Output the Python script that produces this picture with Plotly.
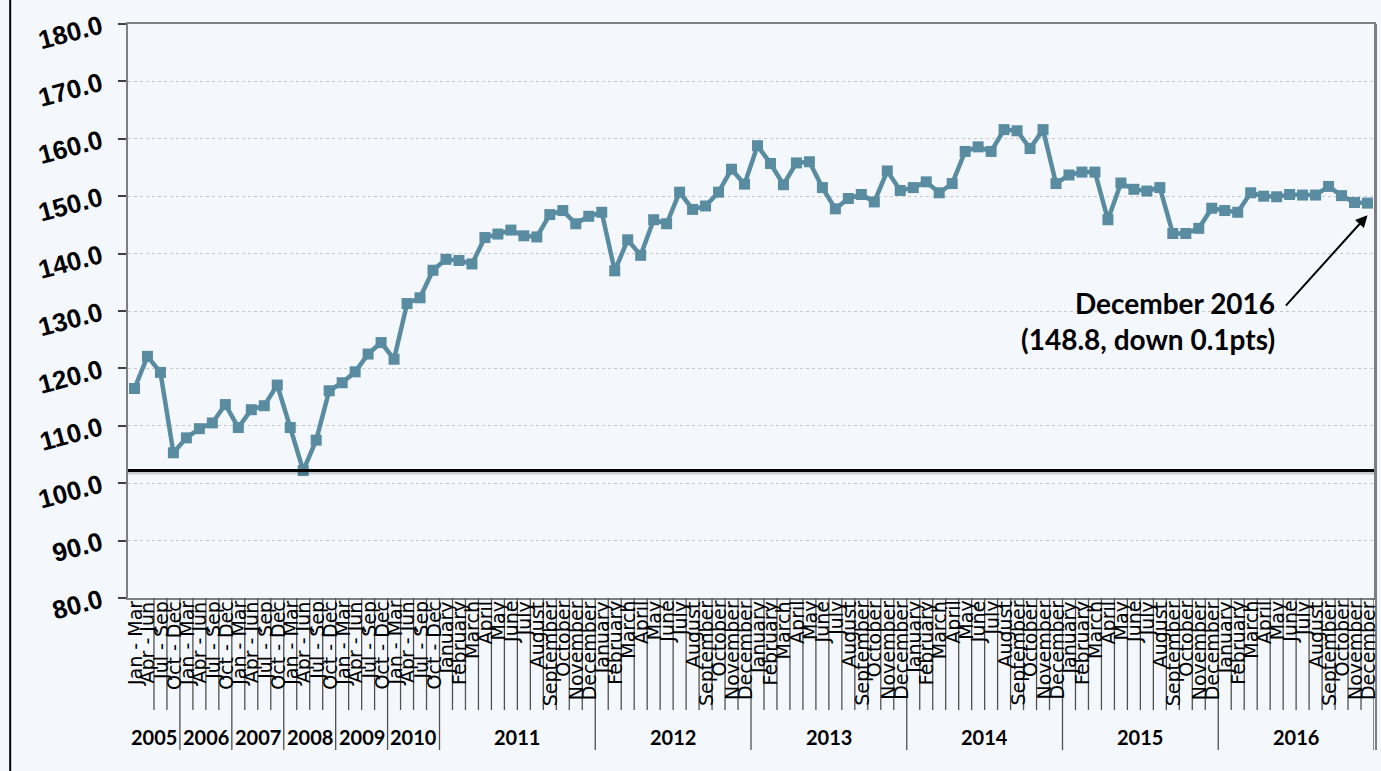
import plotly.graph_objects as go

# ---------------- data ----------------
quarter_years = ["2005", "2006", "2007", "2008", "2009", "2010"]
quarter_labels = ["Jan - Mar", "Apr - Jun", "Jul - Sep", "Oct - Dec"]
month_years = ["2011", "2012", "2013", "2014", "2015", "2016"]
month_labels = ["January", "February", "March", "April", "May", "June", "July",
                "August", "September", "October", "November", "December"]

values_quarterly = [
    116.5, 122.1, 119.3, 105.3,   # 2005
    107.9, 109.5, 110.5, 113.7,   # 2006
    109.7, 112.8, 113.5, 117.1,   # 2007
    109.7, 102.2, 107.5, 116.1,   # 2008
    117.5, 119.4, 122.5, 124.5,   # 2009
    121.6, 131.3, 132.3, 137.1,   # 2010
]
values_monthly = [
    139.0, 138.8, 138.2, 142.8, 143.4, 144.1, 143.1, 142.9, 146.8, 147.5, 145.2, 146.5,  # 2011
    147.2, 137.0, 142.4, 139.7, 145.9, 145.2, 150.7, 147.7, 148.3, 150.7, 154.7, 152.1,  # 2012
    158.8, 155.7, 152.0, 155.8, 156.0, 151.5, 147.8, 149.6, 150.3, 149.0, 154.4, 151.0,  # 2013
    151.5, 152.5, 150.6, 152.2, 157.8, 158.6, 157.8, 161.6, 161.4, 158.3, 161.6, 152.2,  # 2014
    153.7, 154.2, 154.2, 145.9, 152.3, 151.2, 150.9, 151.5, 143.5, 143.5, 144.4, 147.9,  # 2015
    147.5, 147.2, 150.6, 150.0, 149.9, 150.3, 150.2, 150.2, 151.7, 150.1, 148.9, 148.8,  # 2016
]
baseline_value = 102.2
y_ticks = [80, 90, 100, 110, 120, 130, 140, 150, 160, 170, 180]
annotation_lines = ["December 2016", "(148.8, down 0.1pts)"]

# ---------------- build categories ----------------
cat_year, cat_label = [], []
for y in quarter_years:
    for q in quarter_labels:
        cat_year.append(y); cat_label.append(q)
for y in month_years:
    for m in month_labels:
        cat_year.append(y); cat_label.append(m)
cats = [f"{y} {l}" for y, l in zip(cat_year, cat_label)]
values = values_quarterly + values_monthly
n = len(cats)

LINE_COLOR = "#598ba1"
BG = "#f4f8fd"
AXIS_GRAY = "#7f7f7f"

# figure pixel geometry (used for paper-coordinate conversions)
PLOT_TOP, PLOT_BOTTOM = 24, 598
PLOT_H = PLOT_BOTTOM - PLOT_TOP
PLOT_L, PLOT_R = 128, 1376
PLOT_W = PLOT_R - PLOT_L


def py(pix):
    return (PLOT_BOTTOM - pix) / PLOT_H


def px(pix):
    return (pix - PLOT_L) / PLOT_W


fig = go.Figure()

# shadow + baseline
fig.add_shape(type="line", xref="paper", yref="y", x0=0, x1=1,
              y0=baseline_value - 0.35, y1=baseline_value - 0.35,
              line=dict(color="rgba(0,0,0,0.18)", width=4), layer="above")
fig.add_shape(type="line", xref="paper", yref="y", x0=0, x1=1,
              y0=baseline_value, y1=baseline_value,
              line=dict(color="black", width=3), layer="above")

fig.add_trace(go.Scatter(
    x=cats, y=values, mode="lines+markers",
    line=dict(color=LINE_COLOR, width=4.5),
    marker=dict(symbol="square", size=11, color=LINE_COLOR),
    showlegend=False, hoverinfo="skip",
))

annotations = []
shapes = []

# category labels
for i, lab in enumerate(cat_label):
    annotations.append(dict(
        x=i, y=py(599), xref="x", yref="paper", text=lab, textangle=-90,
        showarrow=False, xanchor="center", yanchor="top",
        font=dict(family="DejaVu Sans", size=19, color="black"),
    ))

# boundaries
year_starts = [i for i in range(n) if i == 0 or cat_year[i] != cat_year[i - 1]]
for b in range(n + 1):
    is_year = b in year_starts or b == n
    shapes.append(dict(
        type="line", xref="x", yref="paper", x0=b - 0.5, x1=b - 0.5,
        y0=0, y1=py(750) if is_year else py(710),
        line=dict(color="#505050", width=1.3),
    ))

# year labels
bounds = year_starts + [n]
for k in range(len(year_starts)):
    s, e = bounds[k], bounds[k + 1] - 1
    annotations.append(dict(
        x=(s + e) / 2, y=py(737), xref="x", yref="paper", text=cat_year[s],
        showarrow=False, xanchor="center", yanchor="middle",
        font=dict(family="Lato", size=20, color="black", weight="bold"),
    ))

# right border extension
shapes.append(dict(type="line", xref="paper", yref="paper", x0=px(1378), x1=px(1378),
                   y0=1, y1=py(750), line=dict(color=AXIS_GRAY, width=2)))
# left frame line
shapes.append(dict(type="line", xref="paper", yref="paper", x0=px(10), x1=px(10),
                   y0=py(0), y1=py(771), line=dict(color="black", width=2)))

# callout text
annotations.append(dict(
    x=px(1279), y=py(321), xref="paper", yref="paper",
    text="<br>".join(annotation_lines), showarrow=False, align="right",
    xanchor="right", yanchor="middle",
    font=dict(family="Lato", size=28, color="black", weight="bold"),
))
# arrow to last point
annotations.append(dict(
    x=n - 1, y=values[-1] - 2.1, xref="x", yref="y", text="",
    showarrow=True, arrowhead=2, arrowsize=1.2, arrowwidth=2, arrowcolor="black",
    ax=-83, ay=92,
))

fig.update_layout(
    width=1381, height=771,
    margin=dict(l=PLOT_L, r=1381 - PLOT_R, t=PLOT_TOP, b=771 - PLOT_BOTTOM),
    paper_bgcolor=BG, plot_bgcolor=BG,
    annotations=annotations, shapes=shapes,
    showlegend=False,
)
fig.update_xaxes(
    type="category", range=[-0.5, n - 0.5], showticklabels=False, ticks="",
    showgrid=False, showline=True, linecolor=AXIS_GRAY, linewidth=2, mirror=True,
    zeroline=False,
)
fig.update_yaxes(
    range=[80, 180], tickvals=y_ticks, tickformat=".1f",
    ticks="outside", ticklen=8, tickwidth=1.5, tickcolor="#404040",
    tickangle=-15, ticklabelstandoff=12,
    tickfont=dict(family="Liberation Sans", size=26, color="black", weight="bold"),
    showgrid=True, gridcolor="#c8c8c8", griddash="dot", gridwidth=1,
    showline=True, linecolor=AXIS_GRAY, linewidth=2, mirror=True,
    zeroline=False,
)

fig.write_html("out.html", config={"displayModeBar": False},
               post_script="document.body.style.margin='0';document.body.style.background='%s';" % BG)
